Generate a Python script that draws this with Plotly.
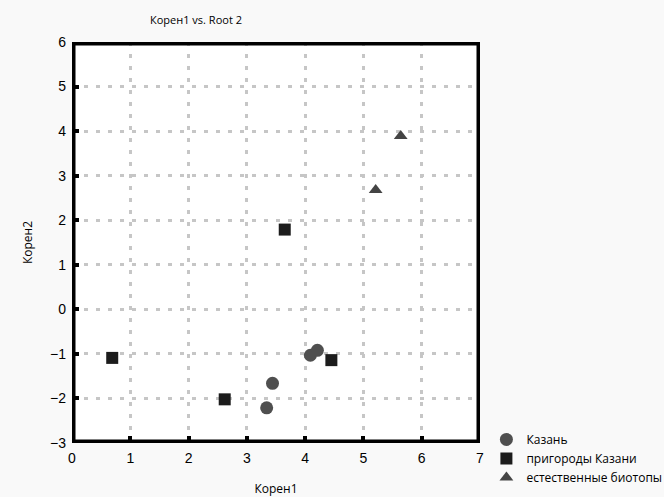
import plotly.graph_objects as go

kazan_x = [3.34, 3.44, 4.09, 4.21]
kazan_y = [-2.21, -1.66, -1.03, -0.92]
suburb_x = [0.69, 2.62, 3.65, 4.45]
suburb_y = [-1.09, -2.02, 1.79, -1.14]
natural_x = [5.21, 5.64]
natural_y = [2.68, 3.89]
series_names = ["Казань", "пригороды Казани", "естественные биотопы"]

fig = go.Figure()
fig.add_trace(go.Scatter(x=kazan_x, y=kazan_y, mode="markers", name=series_names[0],
                         marker=dict(symbol="circle", size=13, color="#4f4f4f")))
fig.add_trace(go.Scatter(x=suburb_x, y=suburb_y, mode="markers", name=series_names[1],
                         marker=dict(symbol="square", size=12, color="#1c1c1c")))
fig.add_trace(go.Scatter(x=natural_x, y=natural_y, mode="markers", name=series_names[2],
                         marker=dict(symbol="triangle-up", size=12, color="#444444")))

fig.add_shape(type="rect", xref="x", yref="y", x0=0, x1=7, y0=-3, y1=6,
              line=dict(color="black", width=7), layer="above")

axis_common = dict(showgrid=True, gridcolor="#c6c6c6", gridwidth=3, griddash="4px,8px",
                   zeroline=False, showline=False, ticks="inside", ticklen=7,
                   tickcolor="black", tickwidth=4,
                   tickfont=dict(family="Liberation Sans, Arial", size=14, color="black"))

fig.update_xaxes(range=[0, 7], dtick=1, ticklabelstandoff=5,
                 title=dict(text="Корен1", standoff=20,
                            font=dict(family="Open Sans", size=12, color="black")), **axis_common)
fig.update_yaxes(range=[-3, 6], dtick=1, ticklabelstandoff=5,
                 title=dict(text="Корен2", standoff=14,
                            font=dict(family="Open Sans", size=12, color="black")), **axis_common)

fig.update_layout(
    width=664, height=497,
    margin=dict(l=72, r=184, t=42, b=54, autoexpand=False),
    paper_bgcolor="#f9f9f9", plot_bgcolor="white",
    title=dict(text="Корен1 vs. Root 2", x=196 / 664, xref="container", xanchor="center",
               y=0.96, yanchor="middle",
               font=dict(family="Open Sans", size=11, color="black")),
    legend=dict(x=1.0157, xanchor="left", y=0.045, yanchor="top",
                font=dict(family="Open Sans", size=12, color="black"),
                bgcolor="rgba(0,0,0,0)", itemwidth=30, tracegroupgap=0),
    showlegend=True,
)

fig.write_html("out.html")
